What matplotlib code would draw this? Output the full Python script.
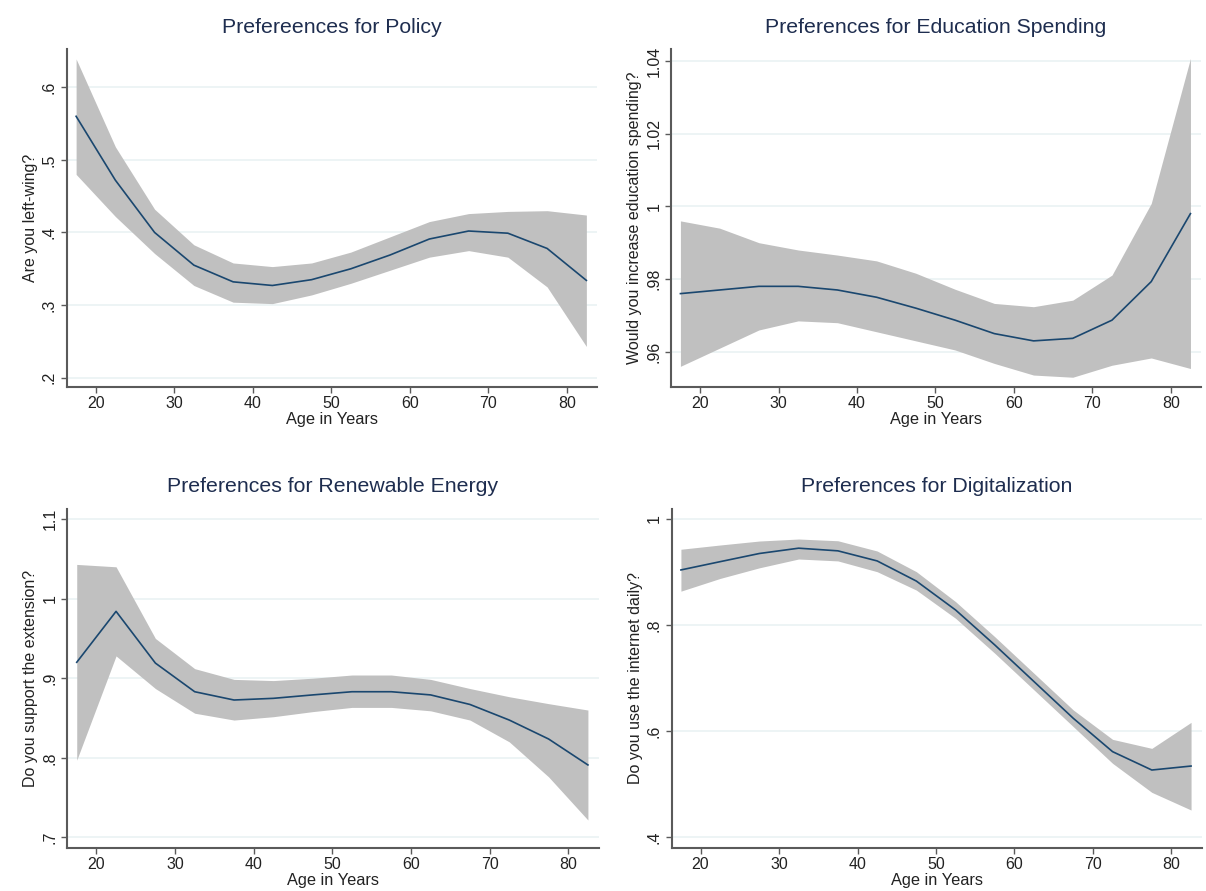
import matplotlib
matplotlib.use('Agg')
import matplotlib.pyplot as plt
import numpy as np

plt.rcParams['font.family'] = ['Liberation Sans', 'DejaVu Sans']

# age groups (midpoints)
ages = [17.5, 22.5, 27.5, 32.5, 37.5, 42.5, 47.5, 52.5, 57.5, 62.5, 67.5, 72.5, 77.5, 82.5]

# policy: left-wing
policy_mean = [0.560, 0.472, 0.400, 0.355, 0.332, 0.327, 0.335, 0.350, 0.369, 0.391, 0.402, 0.399, 0.378, 0.334]
policy_hi = [0.639, 0.518, 0.432, 0.383, 0.358, 0.353, 0.358, 0.373, 0.394, 0.415, 0.426, 0.429, 0.430, 0.424]
policy_lo = [0.480, 0.422, 0.371, 0.327, 0.304, 0.302, 0.314, 0.330, 0.348, 0.366, 0.375, 0.366, 0.325, 0.243]

# education spending
edu_mean = [0.976, 0.977, 0.978, 0.978, 0.977, 0.975, 0.972, 0.9687, 0.965, 0.963, 0.9637, 0.9687, 0.9793, 0.998]
edu_hi = [0.996, 0.994, 0.990, 0.988, 0.9866, 0.985, 0.9816, 0.9772, 0.9733, 0.9724, 0.9742, 0.9811, 1.0008, 1.0407]
edu_lo = [0.956, 0.961, 0.966, 0.9685, 0.968, 0.9655, 0.963, 0.9605, 0.9568, 0.9536, 0.953, 0.9563, 0.9583, 0.9554]

# renewable energy
energy_mean = [0.920, 0.984, 0.919, 0.883, 0.8726, 0.8747, 0.879, 0.883, 0.883, 0.879, 0.867, 0.8474, 0.8236, 0.791]
energy_hi = [1.043, 1.040, 0.950, 0.912, 0.8985, 0.897, 0.900, 0.904, 0.904, 0.8985, 0.887, 0.8767, 0.868, 0.860]
energy_lo = [0.797, 0.928, 0.887, 0.856, 0.8474, 0.8516, 0.858, 0.8633, 0.8633, 0.859, 0.8474, 0.820, 0.776, 0.7218]

# digitalization
digi_mean = [0.904, 0.9196, 0.935, 0.945, 0.940, 0.921, 0.883, 0.8285, 0.7625, 0.6934, 0.6243, 0.5615, 0.5269, 0.5344]
digi_hi = [0.943, 0.951, 0.9585, 0.9623, 0.959, 0.9397, 0.9007, 0.8442, 0.778, 0.709, 0.640, 0.5847, 0.5677, 0.6167]
digi_lo = [0.864, 0.888, 0.908, 0.9246, 0.921, 0.9007, 0.866, 0.8128, 0.7468, 0.6777, 0.6086, 0.5395, 0.4848, 0.4515]

x_ticks = [20, 30, 40, 50, 60, 70, 80]

LINE_COLOR = '#1a476f'
BAND_COLOR = '#c0c0c0'
TITLE_COLOR = '#1e2d4f'
AXIS_COLOR = '#5a5a5a'
GRID_COLOR = '#eaf2f3'


def draw_panel(ax, title, ylabel, mean, lo, hi, yticks, yticklabels, ylim):
    ax.fill_between(ages, lo, hi, color=BAND_COLOR, linewidth=0, zorder=2)
    ax.plot(ages, mean, color=LINE_COLOR, linewidth=1.2, zorder=3)

    ax.set_xlim(16.3, 83.85)
    ax.set_ylim(*ylim)
    ax.set_xticks(x_ticks)
    ax.set_yticks(yticks)
    ax.set_yticklabels(yticklabels, rotation=90, va='center')
    ax.tick_params(axis='both', colors=AXIS_COLOR, labelcolor='#222222',
                   labelsize=11.5, length=4, width=1)
    ax.tick_params(axis='x', pad=3)
    ax.tick_params(axis='y', pad=3)

    for side in ['top', 'right']:
        ax.spines[side].set_visible(False)
    for side in ['left', 'bottom']:
        ax.spines[side].set_color(AXIS_COLOR)
        ax.spines[side].set_linewidth(1.5)

    ax.grid(axis='y', color=GRID_COLOR, linewidth=1.2, zorder=0)
    ax.set_axisbelow(True)

    ax.set_title(title, fontsize=15.3, color=TITLE_COLOR, pad=12)
    ax.set_xlabel('Age in Years', fontsize=11.8, color='#222222', labelpad=0.5)
    ax.set_ylabel(ylabel, fontsize=11.5, color='#222222', labelpad=3)


fig = plt.figure(figsize=(12.06, 8.91), dpi=100)
ax1 = fig.add_axes([0.0553, 0.566, 0.4397, 0.3787])
ax2 = fig.add_axes([0.5564, 0.566, 0.4395, 0.3787])
ax3 = fig.add_axes([0.0558, 0.0486, 0.4405, 0.3801])
ax4 = fig.add_axes([0.5568, 0.0486, 0.4396, 0.3801])

draw_panel(ax1, 'Prefereences for Policy', 'Are you left-wing?',
           policy_mean, policy_lo, policy_hi,
           [0.2, 0.3, 0.4, 0.5, 0.6], ['.2', '.3', '.4', '.5', '.6'], (0.1876, 0.6523))
draw_panel(ax2, 'Preferences for Education Spending', 'Would you increase education spending?',
           edu_mean, edu_lo, edu_hi,
           [0.96, 0.98, 1.0, 1.02, 1.04], ['.96', '.98', '1', '1.02', '1.04'], (0.9504, 1.0432))
draw_panel(ax3, 'Preferences for Renewable Energy', 'Do you support the extension?',
           energy_mean, energy_lo, energy_hi,
           [0.7, 0.8, 0.9, 1.0, 1.1], ['.7', '.8', '.9', '1', '1.1'], (0.687, 1.1126))
draw_panel(ax4, 'Preferences for Digitalization', 'Do you use the internet daily?',
           digi_mean, digi_lo, digi_hi,
           [0.4, 0.6, 0.8, 1.0], ['.4', '.6', '.8', '1'], (0.3805, 1.0188))

fig.savefig('out.png', dpi=100, facecolor='white')
